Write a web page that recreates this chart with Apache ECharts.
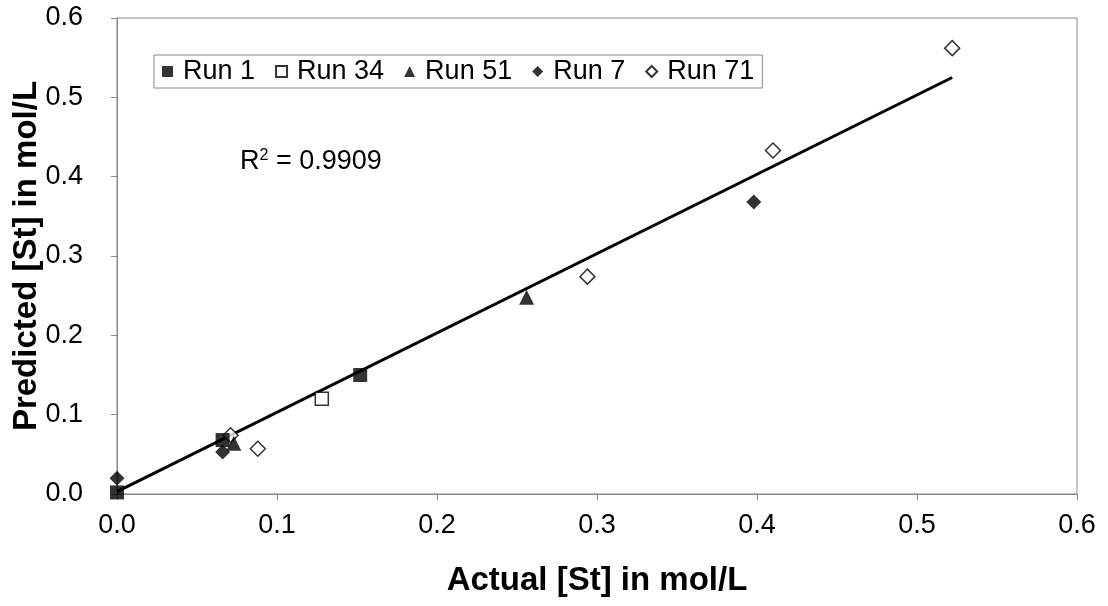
<!DOCTYPE html>
<html>
<head>
<meta charset="utf-8">
<script src="https://cdn.jsdelivr.net/npm/echarts@6/dist/echarts.min.js"></script>
<style>
  html, body { margin: 0; padding: 0; background: #fff; }
  #chart { width: 1108px; height: 606px; }
</style>
</head>
<body>
<div id="chart"></div>
<script>
// Actual vs predicted styrene concentration, mol/L: [actual, predicted]
const run1  = [[0.0, 0.002], [0.066, 0.068], [0.152, 0.150]];
const run34 = [[0.128, 0.120]];
const run51 = [[0.073, 0.064], [0.256, 0.248]];
const run7  = [[0.0, 0.020], [0.066, 0.053], [0.398, 0.368]];
const run71 = [[0.071, 0.074], [0.088, 0.057], [0.294, 0.274], [0.410, 0.433], [0.522, 0.562]];

// Linear trend line over the measured range
const trendSlope = 1.0;
const trendIntercept = 0.003;
const trendRange = [0.0, 0.522];
const r2Label = '0.9909';

const xTicks = ['0.0', '0.1', '0.2', '0.3', '0.4', '0.5', '0.6'];
const yTicks = ['0.0', '0.1', '0.2', '0.3', '0.4', '0.5', '0.6'];

const trendData = trendRange.map(x => [x, trendSlope * x + trendIntercept]);

const font = 'Liberation Sans, Arial, sans-serif';
const black = '#000';

const chart = echarts.init(document.getElementById('chart'), null, { renderer: 'canvas' });

// Filled markers sit above the hollow ones where points overlap
function scatter(name, data, symbol, size, filled) {
  return {
    name, type: 'scatter', data, symbol, symbolSize: size,
    itemStyle: filled
      ? { color: black, borderColor: black, borderWidth: 0 }
      : { color: '#fff', borderColor: black, borderWidth: 1.5 },
    z: filled ? 4 : 3
  };
}

chart.setOption({
  animation: false,
  backgroundColor: '#fff',
  grid: {
    left: 117, right: 31, top: 18, bottom: 112,
    outerBoundsMode: 'none', containLabel: false,
    show: true, borderColor: '#888', borderWidth: 1, backgroundColor: 'transparent'
  },
  legend: {
    data: ['Run 1', 'Run 34', 'Run 51', 'Run 7', 'Run 71'],
    left: 154, top: 55,
    orient: 'horizontal',
    borderColor: '#888', borderWidth: 1,
    padding: [3, 8, 3, 8],
    itemWidth: 11, itemHeight: 11, itemGap: 20,
    textStyle: { fontFamily: font, fontSize: 27, color: black, padding: [0, 0, 0, 5] }
  },
  xAxis: {
    type: 'value', min: 0, max: 0.6, interval: 0.1,
    name: 'Actual [St] in mol/L',
    nameLocation: 'middle', nameGap: 70, nameMoveOverlap: false,
    nameTextStyle: { fontFamily: font, fontSize: 33, fontWeight: 'bold', color: black },
    axisLine: { show: true, lineStyle: { color: '#888', width: 1 } },
    axisTick: { show: true, inside: false, length: 6, lineStyle: { color: '#888' } },
    splitLine: { show: false },
    axisLabel: {
      margin: 18, fontFamily: font, fontSize: 27, color: black,
      formatter: (v) => xTicks[Math.round(v * 10)]
    }
  },
  yAxis: {
    type: 'value', min: 0, max: 0.6, interval: 0.1,
    name: 'Predicted [St] in mol/L',
    nameLocation: 'middle', nameGap: 74, nameRotate: 90, nameMoveOverlap: false,
    nameTextStyle: { fontFamily: font, fontSize: 33, fontWeight: 'bold', color: black },
    axisLine: { show: true, lineStyle: { color: '#888', width: 1 } },
    axisTick: { show: true, inside: false, length: 6, lineStyle: { color: '#888' } },
    splitLine: { show: false },
    axisLabel: {
      margin: 34, fontFamily: font, fontSize: 27, color: black,
      formatter: (v) => yTicks[Math.round(v * 10)]
    }
  },
  series: [
    {
      name: 'Trend', type: 'line', data: trendData, symbol: 'none',
      lineStyle: { color: black, width: 3 }, z: 2, silent: true
    },
    scatter('Run 1', run1, 'rect', 14, true),
    scatter('Run 34', run34, 'rect', 13, false),
    scatter('Run 51', run51, 'triangle', 15, true),
    scatter('Run 7', run7, 'diamond', 15, true),
    scatter('Run 71', run71, 'diamond', 15, false)
  ],
  graphic: [{
    type: 'text', left: 240, top: 148,
    style: {
      text: '{b|R}{s|2}{b| = ' + r2Label + '}',
      rich: {
        b: { fontFamily: font, fontSize: 27, fill: black, color: black },
        s: { fontFamily: font, fontSize: 16, fill: black, color: black, verticalAlign: 'top', padding: [0, 0, 12, 0] }
      }
    }
  }]
});
</script>
</body>
</html>
